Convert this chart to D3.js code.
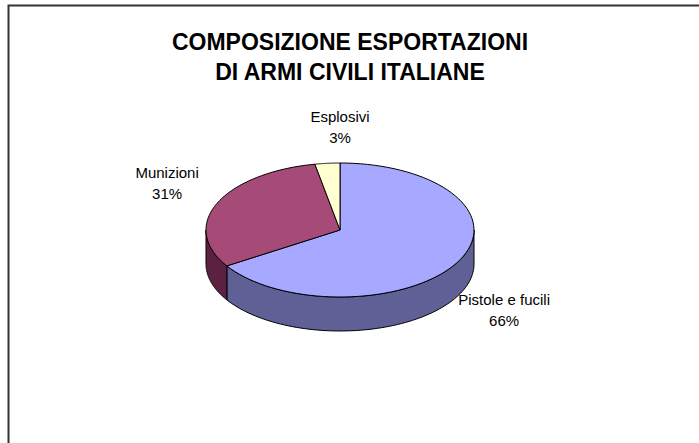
<!DOCTYPE html>
<html><head><meta charset="utf-8">
<script src="https://cdn.jsdelivr.net/npm/d3@7/dist/d3.min.js"></script>
<style>body{margin:0;background:#fff}svg{display:block}</style>
</head><body>
<svg id="c" width="699" height="443"></svg>
<script>
const categories = ["Pistole e fucili", "Munizioni", "Esplosivi"];
const values = [66, 31, 3];
const percentLabels = ["66%", "31%", "3%"];
const titleLines = ["COMPOSIZIONE ESPORTAZIONI", "DI ARMI CIVILI ITALIANE"];
const topColors = ["#A6A9FF", "#A64A77", "#FFFFD2"];
const sideColors = ["#5F6096", "#5C2140", "#999977"];

const svg = d3.select("#c");
svg.append("rect").attr("x", 8.5).attr("y", 5.5).attr("width", 720).attr("height", 460)
  .attr("fill", "#fff").attr("stroke", "#333").attr("stroke-width", 2);

const title = svg.append("text").attr("text-anchor", "middle")
  .attr("font-family", "Liberation Sans, Arial, sans-serif").attr("font-weight", "bold")
  .attr("font-size", 23).attr("fill", "#000");
titleLines.forEach((t, i) => title.append("tspan").attr("x", 350).attr("y", 50 + i * 30).text(t));

const cx = 340, cy = 230, rx = 134, ry = 67, depth = 34;
const pie = d3.pie().sort(null).value(d => d);
const arcs = pie(values);
const pt = (a, dy, k = 1) => [cx + rx * k * Math.sin(a), cy - ry * k * Math.cos(a) + dy];
const N = 80;
function arcPts(a0, a1, dy) {
  const s = d3.scaleLinear().domain([0, N]).range([a0, a1]);
  return d3.range(N + 1).map(i => pt(s(i), dy));
}
const line = d3.line();

const g = svg.append("g");
arcs.forEach((a, i) => {
  const a0 = Math.max(a.startAngle, Math.PI / 2), a1 = Math.min(a.endAngle, 3 * Math.PI / 2);
  if (a1 <= a0) return;
  const pts = arcPts(a0, a1, 0).concat(arcPts(a1, a0, depth));
  g.append("path").attr("d", line(pts) + "Z").attr("fill", sideColors[i])
    .attr("stroke", "#000").attr("stroke-width", 1).attr("stroke-linejoin", "round");
});
arcs.forEach((a, i) => {
  const pts = [[cx, cy]].concat(arcPts(a.startAngle, a.endAngle, 0));
  g.append("path").attr("d", line(pts) + "Z").attr("fill", topColors[i])
    .attr("stroke", "#000").attr("stroke-width", 1).attr("stroke-linejoin", "round");
});

const lab = svg.append("g").attr("font-family", "Liberation Sans, Arial, sans-serif")
  .attr("font-size", 15).attr("fill", "#000").attr("text-anchor", "middle");
arcs.forEach((a, i) => {
  const m = (a.startAngle + a.endAngle) / 2;
  const s = Math.sin(m), c = Math.cos(m);
  const lower = c < 0;
  const x = cx + rx * 1.42 * Math.sign(s) * Math.max(0, Math.abs(s) - 0.1) / 0.9;
  const y = cy - ry * 1.4 * c + (lower ? depth : -11);
  const t = lab.append("text");
  t.append("tspan").attr("x", x).attr("y", y - 4).text(categories[i]);
  t.append("tspan").attr("x", x).attr("y", y + 17).text(percentLabels[i]);
});
</script>
</body></html>
